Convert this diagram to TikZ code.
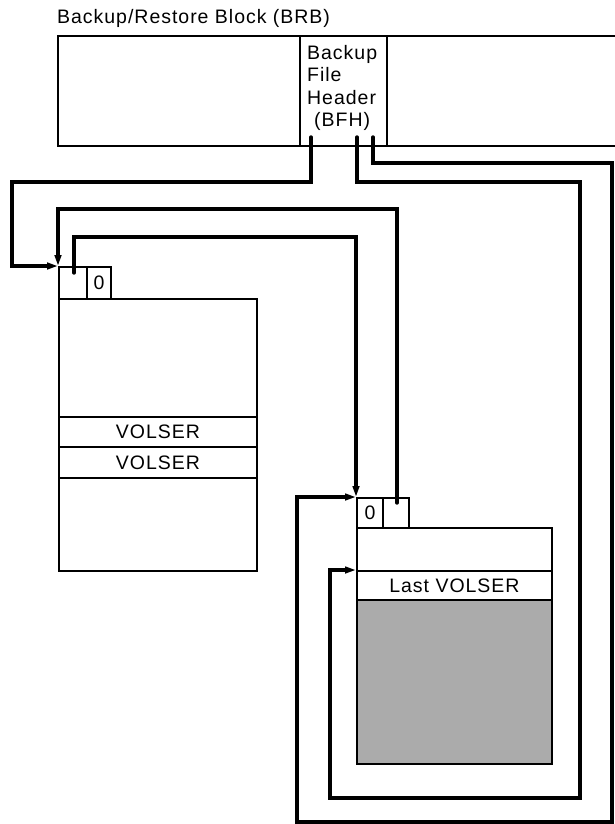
\documentclass[tikz,border=0pt]{standalone}
\usepackage{fontspec}
\setmainfont{Liberation Sans}[LetterSpace=5]
\usetikzlibrary{arrows.meta}
\begin{document}
\begin{tikzpicture}[x=1pt,y=-1pt,
  box/.style={draw, line width=1.9pt, rectangle, inner sep=0pt, anchor=north west},
  conn/.style={line width=3.4pt, line join=miter},
  tip/.style={-{Triangle[length=11pt,width=6.5pt]}},
  lbl/.style={font=\fontsize{19.5}{22.5}\selectfont}]
\useasboundingbox (0,0) rectangle (614,824);
% title
\node[anchor=west, lbl, inner sep=0pt] (title) at (57,18) {Backup/Restore Block (BRB)};
% backup/restore block
\node[box, minimum width=570pt, minimum height=110pt] (brb) at (57,35) {};
\node[box, minimum width=87pt, minimum height=110pt] (bfh) at (299,35) {};
\node[anchor=north west, align=left, lbl, inner sep=0pt] (bfhtext) at (307,45)
  {Backup\\File\\Header\\\hspace{7pt}(BFH)};
\coordinate (s1) at (311,137);
\coordinate (s2) at (357,137);
\coordinate (s3) at (373,137);
% first block
\node[box, minimum width=198pt, minimum height=272pt] (m1) at (58,298) {};
\node[box, minimum width=198pt, minimum height=30pt, lbl] (v1a) at (58,416) {VOLSER};
\node[box, minimum width=198pt, minimum height=31pt, lbl] (v1b) at (58,446) {VOLSER};
\node[box, minimum width=28pt, minimum height=32pt] (c1a) at (58,266) {};
\node[box, minimum width=24pt, minimum height=32pt, lbl] (c1b) at (86,266) {0};
\coordinate (f0) at (74,273);
% last block
\node[box, minimum width=195pt, minimum height=236pt] (m2) at (356,527) {};
\node[box, minimum width=195pt, minimum height=29pt, lbl] (lv) at (356,570) {Last VOLSER};
\node[box, minimum width=195pt, minimum height=164pt, fill=black!33] (sh) at (356,599) {};
\node[box, minimum width=26pt, minimum height=30pt, lbl] (c2a) at (356,497) {0};
\node[box, minimum width=26pt, minimum height=30pt] (c2b) at (382,497) {};
\coordinate (b0) at (397,503);
% connectors
\draw[conn, tip, line cap=round] (s1) |- (12,182) |- (c1a.north west);
\draw[conn, tip, line cap=round] (s2) |- (580,182) |- (330,798) |- (lv.north west);
\draw[conn, tip, line cap=round] (s3) |- (612,163) |- (297,822) |- (c2a.north west);
\draw[conn, tip, line cap=round] (b0) |- (c1a.north west |- 0,209) -- (c1a.north west);
\draw[conn, tip, line cap=round] (f0) |- (c2a.north west |- 0,237) -- (c2a.north west);
\end{tikzpicture}
\end{document}
